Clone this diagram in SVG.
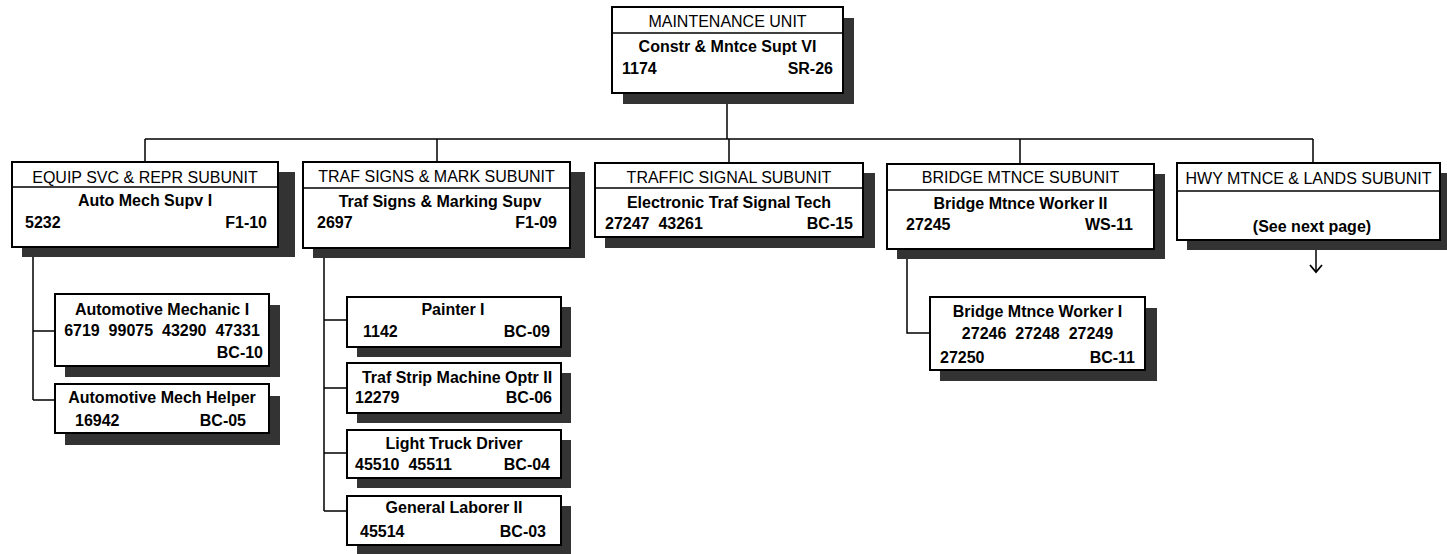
<svg xmlns="http://www.w3.org/2000/svg" width="1447" height="554" viewBox="0 0 1447 554">
<style>
.sh{fill:#333}
.bx{fill:#fff;stroke:#000;stroke-width:2}
.dv{stroke:#000;stroke-width:1.5;fill:none}
.cn{stroke:#000;stroke-width:1.5;fill:none}
text{font-family:"Liberation Sans",Arial,sans-serif;font-size:16px;fill:#000}
.h{font-weight:normal}
.b{font-weight:bold}
.c{text-anchor:middle}
.r{text-anchor:end}
</style>
<defs>
<marker id="arr" markerWidth="12" markerHeight="14" refX="9" refY="7" orient="auto" markerUnits="userSpaceOnUse" viewBox="0 0 12 14">
<path d="M2,1 L9,7 L2,13" fill="none" stroke="#000" stroke-width="1.8"/>
</marker>
</defs>
<g id="connectors">
<path class="cn" d="M727,93 V139"/>
<path class="cn" d="M145,139 H1313"/>
<path class="cn" d="M145,139 V162 M437,139 V162 M729,139 V163 M1020,139 V164 M1313,139 V163"/>
<path class="cn" d="M33,247 V400 M33,331 H55 M33,400 H55"/>
<path class="cn" d="M324,248 V511 M324,320 H347 M324,388 H347 M324,453 H347 M324,511 H347"/>
<path class="cn" d="M907,249 V333 H930"/>
<path class="cn" d="M1316,250 V272" marker-end="url(#arr)"/>
</g>
<g id="maintenance-unit">
<rect class="sh" x="623" y="18" width="231" height="86"/>
<rect class="bx" x="612" y="7" width="231" height="86"/>
<line class="dv" x1="612" y1="33" x2="843" y2="33"/>
<text class="h c" x="727.5" y="27">MAINTENANCE UNIT</text>
<text class="b c" x="727.5" y="52">Constr &amp; Mntce Supt VI</text>
<text class="b" x="622" y="74">1174</text>
<text class="b r" x="833" y="74">SR-26</text>
</g>
<g id="equip-svc">
<rect class="sh" x="22" y="172" width="273" height="85"/>
<rect class="bx" x="12" y="162" width="266" height="85"/>
<line class="dv" x1="12" y1="187" x2="278" y2="187"/>
<text class="h c" x="145" y="183">EQUIP SVC &amp; REPR SUBUNIT</text>
<text class="b c" x="145" y="206">Auto Mech Supv I</text>
<text class="b" x="25" y="228">5232</text>
<text class="b r" x="267" y="228">F1-10</text>
</g>
<g id="traf-signs">
<rect class="sh" x="313" y="172" width="272" height="86"/>
<rect class="bx" x="303" y="162" width="267" height="86"/>
<line class="dv" x1="303" y1="188" x2="570" y2="188"/>
<text class="h c" x="436.5" y="182">TRAF SIGNS &amp; MARK SUBUNIT</text>
<text class="b c" x="440" y="207">Traf Signs &amp; Marking Supv</text>
<text class="b" x="317" y="228">2697</text>
<text class="b r" x="557" y="228">F1-09</text>
</g>
<g id="traffic-signal">
<rect class="sh" x="605" y="173" width="270" height="75"/>
<rect class="bx" x="595" y="163" width="268" height="74"/>
<line class="dv" x1="595" y1="188" x2="863" y2="188"/>
<text class="h c" x="729" y="183">TRAFFIC SIGNAL SUBUNIT</text>
<text class="b c" x="729" y="208">Electronic Traf Signal Tech</text>
<text class="b" x="605" y="229" xml:space="preserve">27247  43261</text>
<text class="b r" x="853" y="229">BC-15</text>
</g>
<g id="bridge-mtnce">
<rect class="sh" x="897" y="174" width="268" height="85"/>
<rect class="bx" x="887" y="164" width="267" height="85"/>
<line class="dv" x1="887" y1="190" x2="1154" y2="190"/>
<text class="h c" x="1020.5" y="183">BRIDGE MTNCE SUBUNIT</text>
<text class="b c" x="1020.5" y="209">Bridge Mtnce Worker II</text>
<text class="b" x="906" y="230">27245</text>
<text class="b r" x="1133" y="230">WS-11</text>
</g>
<g id="hwy-mtnce">
<rect class="sh" x="1187" y="173" width="263" height="77"/>
<rect class="bx" x="1177" y="163" width="263" height="77"/>
<line class="dv" x1="1177" y1="191" x2="1440" y2="191"/>
<text class="h c" x="1308.5" y="184">HWY MTNCE &amp; LANDS SUBUNIT</text>
<text class="b c" x="1312" y="232">(See next page)</text>
</g>
<g id="automotive-mechanic-i">
<rect class="sh" x="65" y="305" width="215" height="72"/>
<rect class="bx" x="55" y="294" width="214" height="72"/>
<text class="b c" x="162" y="315">Automotive Mechanic I</text>
<text class="b c" x="162" y="336" xml:space="preserve">6719  99075  43290  47331</text>
<text class="b r" x="263" y="358">BC-10</text>
</g>
<g id="automotive-mech-helper">
<rect class="sh" x="65" y="396" width="215" height="49"/>
<rect class="bx" x="55" y="384" width="214" height="49"/>
<text class="b c" x="162" y="403">Automotive Mech Helper</text>
<text class="b" x="75" y="426">16942</text>
<text class="b r" x="246" y="426">BC-05</text>
</g>
<g id="painter-i">
<rect class="sh" x="357" y="307" width="214" height="50"/>
<rect class="bx" x="347" y="297" width="214" height="50"/>
<text class="b c" x="453" y="315">Painter I</text>
<text class="b" x="363" y="337">1142</text>
<text class="b r" x="550" y="337">BC-09</text>
</g>
<g id="traf-strip-machine-optr-ii">
<rect class="sh" x="357" y="373" width="214" height="50"/>
<rect class="bx" x="347" y="363" width="214" height="50"/>
<text class="b c" x="457" y="383">Traf Strip Machine Optr II</text>
<text class="b" x="355" y="403">12279</text>
<text class="b r" x="552" y="403">BC-06</text>
</g>
<g id="light-truck-driver">
<rect class="sh" x="357" y="440" width="214" height="48"/>
<rect class="bx" x="347" y="430" width="214" height="48"/>
<text class="b c" x="454" y="449">Light Truck Driver</text>
<text class="b" x="355" y="470" xml:space="preserve">45510  45511</text>
<text class="b r" x="550" y="470">BC-04</text>
</g>
<g id="general-laborer-ii">
<rect class="sh" x="357" y="506" width="214" height="49"/>
<rect class="bx" x="347" y="496" width="214" height="49"/>
<text class="b c" x="454" y="513">General Laborer II</text>
<text class="b" x="360" y="537">45514</text>
<text class="b r" x="546" y="537">BC-03</text>
</g>
<g id="bridge-mtnce-worker-i">
<rect class="sh" x="940" y="308" width="217" height="73"/>
<rect class="bx" x="930" y="297" width="215" height="73"/>
<text class="b c" x="1037.5" y="317">Bridge Mtnce Worker I</text>
<text class="b c" x="1037.5" y="339" xml:space="preserve">27246  27248  27249</text>
<text class="b" x="940" y="363">27250</text>
<text class="b r" x="1135" y="363">BC-11</text>
</g>
</svg>
